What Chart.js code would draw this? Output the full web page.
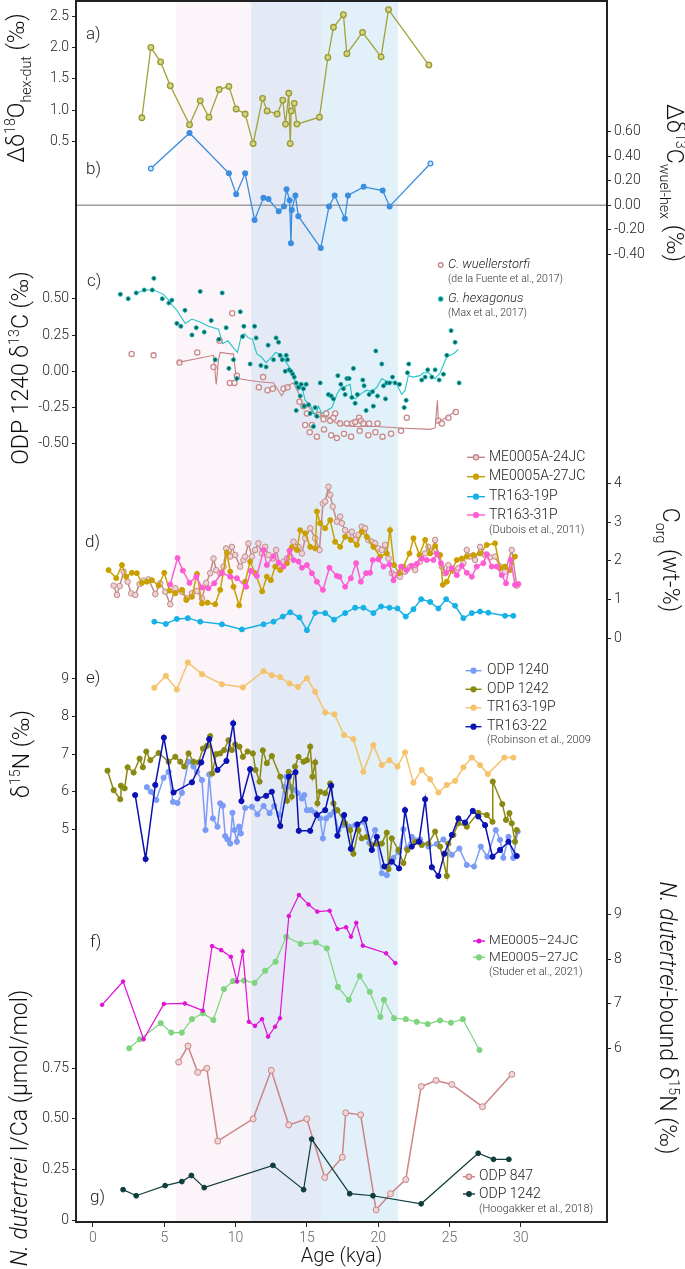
<!DOCTYPE html>
<html>
<head>
<meta charset="utf-8">
<script src="https://cdn.jsdelivr.net/npm/chart.js@4.4.0/dist/chart.umd.min.js"></script>
<style>
  html, body { margin: 0; padding: 0; background: #fff; }
  canvas { display: block; }
</style>
</head>
<body>
<canvas id="chart" width="685" height="1269"></canvas>
<script>
//DATA (age in kya)
const xTicks = [0, 5, 10, 15, 20, 25, 30];

// a) d18O hex - dut
const ageA = [3.43,4.06,4.74,5.42,6.77,7.52,8.13,8.85,9.53,10.04,10.67,11.23,11.89,12.21,12.91,13.31,13.5,13.73,13.83,13.9,14.11,14.3,15.88,16.47,16.86,17.56,17.8,18.9,20.2,20.72,23.55];
const valA = [0.88,2.0,1.77,1.39,0.77,1.15,0.89,1.33,1.38,1.02,0.94,0.47,1.19,0.99,0.94,1.16,0.78,1.27,0.47,0.99,1.11,0.78,0.89,1.84,2.32,2.52,1.90,2.24,1.85,2.60,1.72];

// b) d13C wuel - hex
const ageB = [4.06,6.77,9.53,10.04,10.67,11.33,11.95,12.31,13.02,13.39,13.57,13.79,13.88,13.94,14.19,14.4,15.97,16.55,16.95,17.66,17.88,18.98,20.31,20.8,23.66];
const valB = [0.30,0.59,0.26,0.09,0.26,-0.12,0.06,0.05,-0.05,-0.01,0.13,0.04,-0.31,-0.04,0.08,-0.09,-0.35,-0.01,0.08,-0.11,0.08,0.15,0.12,-0.01,0.34];

// c) ODP 1240 d13C
const wuelAge = [2.71,4.25,6.07,7.31,8.45,8.87,9.6,9.76,9.92,10.09,11.63,11.93,12.24,12.61,13.36,13.64,14.48,14.76,14.88,15.0,15.2,15.35,15.7,15.81,16.16,16.2,16.35,16.63,16.7,16.86,16.98,17.1,17.33,17.6,17.8,18.1,18.19,18.38,18.66,18.7,18.78,18.96,19.3,19.36,19.8,19.95,20.3,20.9,21.6,22.0,24.22,24.46,24.92,25.44];
const wuelVal = [0.12,0.11,0.06,0.13,0.03,0.21,-0.08,0.40,-0.08,-0.03,-0.11,-0.04,-0.13,-0.12,-0.12,-0.11,-0.21,-0.24,-0.37,-0.29,-0.42,-0.37,-0.45,-0.30,-0.33,-0.40,-0.29,-0.34,-0.44,-0.32,-0.29,-0.46,-0.36,-0.43,-0.36,-0.45,-0.36,-0.35,-0.32,-0.41,-0.34,-0.36,-0.44,-0.36,-0.42,-0.36,-0.45,-0.43,-0.41,-0.32,-0.34,-0.36,-0.32,-0.28];
const wuelLineAge = [5.88,8.45,8.64,8.8,8.92,9.62,9.85,10.02,10.13,11.49,12.66,13.24,13.48,13.83,14.06,14.41,14.65,14.88,15.11,15.46,15.93,16.63,17.1,17.21,17.45,18.26,18.96,19.9,21.53,23.64,23.99,24.15,24.22,24.57,24.92,25.44];
const wuelLineVal = [0.06,0.11,-0.09,0.08,0.13,0.12,0.12,-0.03,-0.05,-0.07,-0.08,-0.17,-0.12,-0.09,-0.08,-0.15,-0.22,-0.25,-0.24,-0.29,-0.30,-0.32,-0.36,-0.34,-0.37,-0.38,-0.38,-0.38,-0.39,-0.40,-0.39,-0.20,-0.35,-0.33,-0.31,-0.27];
const hexAge = [1.92,2.47,3.03,3.59,4.16,4.27,4.86,5.32,5.53,5.88,6.16,6.45,6.94,7.24,7.52,7.8,8.29,8.57,8.83,9.06,9.34,9.53,9.85,10.09,10.33,10.49,10.58,11.02,11.33,11.44,11.77,12.14,12.28,12.66,12.84,13.01,13.12,13.27,13.48,13.55,13.64,13.76,13.88,14.01,14.11,14.25,14.25,14.41,14.53,14.6,14.76,14.8,14.95,15.11,15.23,15.46,15.58,15.7,15.93,16.51,16.7,16.86,17.17,17.38,17.56,17.68,17.8,17.96,18.15,18.26,18.38,18.54,18.92,19.01,19.15,19.36,19.6,19.66,19.83,19.95,20.25,20.37,20.51,20.6,20.79,21.0,21.18,21.49,21.82,21.96,22.05,22.14,23.05,23.29,23.47,23.76,23.99,24.27,24.57,24.81,25.11,25.39,25.67];
const hexVal = [0.53,0.50,0.54,0.56,0.56,0.64,0.50,0.47,0.49,0.33,0.31,0.42,0.25,0.30,0.55,0.27,0.35,0.08,0.22,0.54,0.30,0.02,0.08,-0.05,0.41,0.24,0.31,0.05,0.31,0.23,0.04,0.03,0.18,0.08,0.23,0.20,0.11,0.08,0.00,0.11,0.08,0.01,0.00,-0.02,-0.04,-0.08,-0.27,-0.11,-0.17,-0.09,-0.12,-0.24,-0.09,-0.23,-0.29,-0.38,-0.25,-0.31,-0.08,-0.16,-0.17,-0.19,-0.03,-0.09,-0.12,-0.16,-0.05,-0.05,-0.18,0.02,-0.22,-0.16,-0.06,-0.10,-0.27,-0.16,-0.14,-0.24,0.14,-0.17,0.05,-0.10,-0.19,-0.08,-0.08,-0.04,-0.08,-0.09,-0.25,-0.20,-0.01,0.05,-0.06,-0.04,0.01,-0.04,0.01,-0.06,-0.02,0.11,0.28,0.20,-0.08];
const hexLineAge = [3.08,3.59,4.25,4.95,5.3,5.53,5.88,6.47,6.94,7.52,8.1,8.8,9.1,9.46,9.78,10.13,10.37,10.62,10.9,11.18,11.49,11.79,12.14,12.54,12.8,13.08,13.31,13.55,13.83,14.06,14.41,14.65,14.88,15.23,15.58,15.81,16.05,16.4,16.75,17.1,17.33,17.56,18.03,18.15,18.38,18.61,18.85,19.2,19.55,19.9,20.25,20.6,20.95,21.3,21.65,21.88,22.11,22.47,22.93,23.17,23.52,23.99,24.34,24.81,25.27,25.62];
const hexLineVal = [0.54,0.56,0.56,0.53,0.49,0.46,0.42,0.33,0.36,0.34,0.31,0.29,0.19,0.21,0.17,0.13,0.23,0.26,0.23,0.22,0.12,0.10,0.06,0.10,0.13,0.12,0.10,0.06,0.02,-0.04,-0.13,-0.11,-0.20,-0.23,-0.31,-0.24,-0.29,-0.27,-0.25,-0.16,-0.12,-0.11,-0.09,-0.17,-0.19,-0.17,-0.15,-0.13,-0.14,-0.11,-0.05,-0.07,-0.07,-0.09,-0.16,-0.13,-0.03,-0.04,-0.03,-0.01,-0.01,-0.05,-0.01,0.10,0.12,0.15];

// d) Corg
const d24Age = [1.45,1.68,1.87,2.15,2.43,2.68,2.96,3.27,3.55,3.9,4.37,4.72,5.07,5.42,5.77,6.24,6.59,6.94,7.29,7.64,7.94,8.22,8.45,8.64,8.92,9.15,9.34,9.62,9.74,9.97,10.32,10.55,10.67,10.9,11.14,11.37,11.6,11.84,12.07,12.31,12.61,12.84,13.13,13.36,13.6,13.83,14.06,14.41,14.65,14.88,15.23,15.58,15.88,16.12,16.28,16.51,16.63,16.81,17.1,17.33,17.45,17.68,17.91,18.15,18.38,18.61,18.85,19.08,19.31,19.55,19.78,20.01,20.25,20.48,20.72,20.95,21.18,21.53,21.88,22.24,22.59,22.94,23.29,23.52,23.76,23.99,24.22,24.46,24.69,24.92,25.27,25.62,25.97,26.21,26.44,26.79,27.14,27.49,27.84,28.19,28.54,28.89,29.36,29.71];
const d24Val = [1.36,1.12,1.35,1.72,1.46,1.16,1.12,1.40,1.49,1.52,1.14,1.42,1.20,0.88,1.29,1.20,1.03,1.16,1.22,1.03,1.43,1.68,2.06,1.76,1.68,1.85,2.32,2.11,2.36,2.15,1.85,2.02,2.11,2.45,2.11,2.28,2.45,2.19,2.36,2.15,2.06,2.28,1.85,1.98,2.06,2.11,2.49,2.36,2.19,2.58,2.84,2.58,2.28,3.48,3.53,3.91,3.70,3.40,3.01,3.14,2.97,2.79,2.67,2.75,2.54,2.67,2.88,2.84,2.54,2.49,2.45,2.32,2.28,2.41,2.06,1.68,1.63,1.59,1.72,1.85,1.76,1.98,2.19,2.36,2.24,2.54,2.15,1.85,1.68,1.89,1.74,1.81,1.94,2.28,2.11,2.02,2.36,2.15,2.09,2.11,1.85,1.72,2.28,1.36];
const d27Age = [1.09,1.63,2.03,2.33,2.73,3.08,3.43,3.78,4.13,4.6,5.0,5.37,5.77,6.24,6.54,6.94,7.29,7.64,8.03,8.57,8.92,9.39,9.62,9.85,10.25,10.67,11.02,11.37,11.86,12.19,12.47,12.78,13.13,13.6,13.94,14.3,14.53,14.88,15.23,15.58,15.7,15.93,16.28,16.63,16.98,17.33,17.68,18.08,18.5,18.85,19.2,19.66,20.13,20.6,20.83,21.11,21.46,21.77,22.19,22.47,22.89,23.29,23.64,23.99,24.34,24.53,24.81,25.16,25.51,25.86,26.21,26.67,27.14,27.61,28.19,28.54,28.89,29.24,29.59];
const d27Val = [1.76,1.55,1.89,1.59,1.69,1.68,1.43,1.46,1.50,1.36,1.69,1.23,1.16,1.25,0.99,1.07,1.66,0.90,0.92,0.88,1.25,2.21,1.72,1.33,0.85,1.46,1.98,1.68,1.21,1.59,1.50,1.85,1.76,1.94,2.35,2.28,2.79,2.71,2.36,2.32,3.27,2.97,2.84,3.05,2.49,2.36,2.62,2.54,2.41,2.75,2.62,2.36,2.11,2.19,2.79,1.89,1.68,1.85,2.19,2.58,2.15,2.54,2.19,2.38,2.15,1.38,1.46,1.76,2.02,2.06,2.11,2.15,2.19,2.41,2.45,1.81,1.85,1.76,2.11];
const d19Age = [4.3,5.11,5.88,6.65,7.52,9.04,10.44,11.96,12.66,13.31,13.83,14.48,15.0,15.58,16.28,16.9,17.68,18.38,18.96,19.66,20.2,20.79,21.35,21.93,22.47,23.01,23.64,24.22,24.76,25.39,25.97,26.56,27.14,27.72,28.89,29.47];
const d19Val = [0.43,0.37,0.50,0.52,0.43,0.36,0.23,0.36,0.43,0.56,0.67,0.54,0.21,0.66,0.65,0.48,0.65,0.79,0.79,0.65,0.82,0.79,0.77,0.56,0.75,1.01,0.94,0.77,1.01,0.84,0.52,0.65,0.69,0.66,0.58,0.58];
const d31Age = [5.42,5.93,6.3,6.77,7.24,7.64,8.1,8.5,9.04,9.62,10.09,10.74,11.07,11.49,11.96,12.19,12.66,13.01,13.36,13.78,14.06,14.41,14.65,15.0,15.35,15.7,16.12,16.58,17.1,17.28,17.68,18.08,18.45,18.78,19.15,19.43,19.62,20.01,20.37,20.79,21.07,21.6,22.0,22.35,22.7,23.05,23.41,23.87,24.11,24.39,24.76,25.16,25.51,25.86,26.21,26.56,26.91,27.37,27.61,27.96,28.31,28.66,28.96,29.29,29.59,29.83];
const d31Val = [1.39,2.07,1.75,1.43,1.59,1.31,1.29,1.42,1.69,1.59,1.55,1.33,1.74,1.61,2.28,1.89,2.12,1.95,1.85,2.26,2.02,1.98,1.82,1.89,1.68,1.46,1.25,1.82,1.61,1.59,1.33,1.55,1.94,1.46,1.68,1.69,2.02,2.04,1.85,1.91,1.50,1.85,1.76,1.87,1.92,2.06,2.02,2.02,2.19,1.94,1.69,1.81,1.63,1.87,1.69,1.59,1.85,1.94,2.17,1.85,1.85,1.63,1.42,2.02,1.38,1.40];

// e) d15N
const e1240Age = [3.78,4.06,4.44,4.95,5.3,5.61,5.93,6.24,6.7,7.05,7.29,7.64,7.89,8.15,8.41,8.73,8.92,9.1,9.27,9.43,9.62,9.78,9.92,10.09,10.25,10.37,10.67,11.14,11.53,11.96,12.38,12.71,13.08,13.41,13.55,13.83,14.11,14.37,14.65,14.81,15.0,15.28,15.58,15.93,16.12,16.35,16.63,16.91,17.21,17.56,17.98,18.38,18.96,19.38,19.78,20.25,20.6,21.07,21.42,21.77,22.0,22.35,22.94,23.52,24.11,24.57,25.16,25.69,26.21,26.72,27.19,27.65,28.24,28.54,28.77,29.13,29.47,29.78];
const e1240Val = [6.12,6.00,5.78,6.37,6.53,5.73,5.70,5.97,6.80,6.67,6.53,6.31,4.98,6.46,5.29,5.07,5.69,5.63,4.82,4.73,4.62,5.44,4.98,4.67,5.07,4.89,5.57,5.60,5.40,5.62,5.43,5.62,5.38,6.13,6.40,6.13,6.05,5.96,5.82,5.91,5.51,5.51,5.44,5.29,4.76,5.29,5.38,5.47,4.98,5.11,5.07,5.11,5.20,4.64,4.98,3.83,3.78,4.24,4.39,5.00,4.49,4.80,4.73,4.54,4.61,4.73,4.32,4.49,4.05,4.01,4.54,4.27,4.98,4.72,4.24,4.80,4.24,4.94];
const e1242Age = [1.02,1.45,1.91,1.96,2.22,2.43,2.85,3.27,3.5,3.74,4.02,4.6,5.3,5.77,6.12,6.4,6.7,7.05,7.4,7.71,7.99,8.22,8.36,8.64,8.92,9.2,9.5,9.74,9.97,10.27,10.51,10.84,11.21,11.4,11.68,11.91,12.19,12.54,13.13,13.6,13.72,13.94,14.17,14.41,14.76,15.0,15.23,15.39,15.58,15.74,15.93,16.28,16.63,16.86,17.14,17.68,18.03,18.26,18.61,18.85,19.2,19.55,19.9,20.25,20.6,20.72,20.95,21.42,21.77,22.05,22.59,23.05,23.52,23.99,24.34,24.81,24.92,25.27,25.62,26.21,27.02,27.61,28.01,28.03,28.7,28.96,29.2,29.36,29.59,29.71];
const e1242Val = [6.56,6.04,5.80,6.16,6.09,6.65,6.51,6.88,6.65,7.07,6.84,7.03,6.80,6.93,6.80,6.67,7.02,6.80,6.78,7.15,7.22,7.48,6.49,7.00,7.02,7.11,7.37,7.11,7.26,7.20,6.93,7.07,7.02,6.58,6.27,7.10,6.76,6.95,6.40,5.76,6.53,5.87,6.67,6.93,6.80,6.84,7.20,6.40,6.78,5.69,6.00,5.96,6.22,5.69,5.51,5.16,4.98,4.35,4.98,4.76,4.80,4.58,4.62,4.62,4.91,3.94,4.76,4.45,4.10,4.45,4.67,4.58,4.62,4.94,4.54,3.76,4.62,4.85,5.16,5.07,5.44,5.38,5.20,6.27,5.67,5.25,5.43,5.16,4.67,4.98];
const e19Age = [4.3,5.11,5.88,6.65,7.64,9.04,10.51,11.96,12.54,13.13,13.78,14.37,15.0,15.58,16.28,16.93,17.61,18.26,18.96,19.66,20.25,20.79,21.35,21.88,22.47,23.05,23.64,24.22,24.81,25.39,25.97,26.56,27.14,27.68,28.84,29.47];
const e19Val = [8.77,9.08,8.72,9.44,9.13,8.86,8.78,9.21,9.10,9.05,8.88,8.79,9.02,8.66,8.11,8.06,7.51,7.40,6.53,7.24,6.71,6.84,6.67,7.05,6.24,6.58,6.33,5.98,6.18,6.29,6.65,6.91,6.71,6.47,6.91,6.91];
const e22Age = [2.96,3.69,4.37,4.97,5.65,6.94,7.59,8.15,8.73,9.36,9.83,10.41,11.02,11.53,12.14,12.54,13.13,13.73,14.2,14.43,15.23,15.7,16.28,16.7,17.14,17.61,18.08,18.54,19.08,19.55,19.9,20.43,20.95,21.46,21.88,22.35,22.86,23.29,23.76,24.22,24.64,25.16,25.62,26.09,26.63,27.02,27.49,28.01,28.54,29.13,29.71];
const e22Val = [5.91,4.21,6.18,7.44,5.98,6.25,6.78,7.40,6.58,6.82,7.82,5.75,6.60,5.82,5.89,6.00,5.09,6.40,6.52,4.96,4.96,5.38,5.51,6.16,4.83,5.38,4.48,5.13,5.27,4.45,4.80,4.01,4.14,3.96,5.51,4.54,4.67,5.80,3.99,3.76,4.35,4.85,5.29,5.18,5.49,5.34,5.11,4.27,4.45,4.67,4.29];

// f) N. dutertrei-bound d15N
const f24Age = [0.64,2.11,3.55,4.97,6.44,7.7,8.35,8.99,9.67,10.1,10.5,10.93,11.36,11.85,12.28,12.77,13.11,13.73,14.44,15.11,15.73,16.59,17.14,17.75,18.09,18.46,18.92,20.55,21.2];
const f24Val = [6.98,7.50,6.21,7.00,7.01,6.85,8.29,8.20,8.05,7.50,8.17,6.60,6.51,6.66,6.27,6.49,6.68,8.96,9.43,9.22,9.06,9.08,8.67,8.71,8.50,8.81,8.30,8.13,7.91];
const f27Age = [2.54,3.28,4.75,5.49,6.23,6.94,7.7,8.44,9.18,9.82,10.59,11.33,12.07,12.8,13.55,14.56,15.63,16.4,17.17,17.94,18.7,19.41,20.15,20.4,21.11,21.93,22.7,23.47,24.33,25.1,25.93,27.1];
const f27Val = [6.01,6.21,6.57,6.36,6.36,6.66,6.79,6.64,7.33,7.51,7.52,7.47,7.74,7.94,8.50,8.34,8.37,8.24,7.38,7.09,7.62,7.27,6.71,7.09,6.68,6.66,6.60,6.55,6.63,6.58,6.66,5.97];

// g) I/Ca
const g847Age = [6.01,6.66,7.34,7.98,8.75,11.23,12.5,13.73,14.99,16.25,17.48,17.72,18.77,19.85,20.86,21.93,23.01,24.06,25.16,27.31,29.37];
const g847Val = [0.78,0.86,0.73,0.75,0.39,0.50,0.74,0.47,0.50,0.21,0.31,0.53,0.52,0.05,0.13,0.20,0.66,0.69,0.67,0.56,0.72];
const g1242Age = [2.11,3.03,5.06,6.23,6.9,7.8,12.62,14.77,15.33,18.0,19.63,23.01,27.01,28.08,29.16];
const g1242Val = [0.15,0.12,0.17,0.19,0.22,0.16,0.27,0.15,0.40,0.13,0.12,0.08,0.33,0.30,0.30];

// shaded intervals
const bandFrom = [5.82, 11.09, 16.05];
const bandTo   = [11.09, 16.05, 21.4];

//LAYOUT
const X_MIN = -1.19, X_MAX = 36.04;
const TOP = 1, BOTTOM = 1222, H = BOTTOM - TOP;
const FONT = "'Roboto', 'Liberation Sans', sans-serif";
const bandColor = ['#fbf4f9', '#e4eaf5', '#e1f0f9'];

// each panel: two tick values and the pixel rows they sit on
const panels = {
  ya: { side: 'L', ref: [0.5, 141.7, 2.5, 16],     ticks: [0.5, 1, 1.5, 2, 2.5],          dec: 1 },
  yb: { side: 'R', ref: [0, 205.2, 0.6, 131.7],    ticks: [-0.4, -0.2, 0, 0.2, 0.4, 0.6], dec: 2 },
  yc: { side: 'L', ref: [0, 371.3, 0.5, 298.7],    ticks: [-0.5, -0.25, 0, 0.25, 0.5],    dec: 2 },
  yd: { side: 'R', ref: [0, 638.3, 4, 483.3],      ticks: [0, 1, 2, 3, 4],                dec: 0 },
  ye: { side: 'L', ref: [5, 829.3, 9, 679],        ticks: [5, 6, 7, 8, 9],                dec: 0 },
  yf: { side: 'R', ref: [6, 1048.7, 9, 914.3],     ticks: [6, 7, 8, 9],                   dec: 0 },
  yg: { side: 'L', ref: [0, 1220, 0.75, 1068.3],   ticks: [0, 0.25, 0.5, 0.75],           dec: 2, zero: '0' }
};

const ranges = {};
for (const id in panels) {
  const [v0, y0, v1, y1] = panels[id].ref;
  const k = (y0 - y1) / (v1 - v0);
  const max = v1 + (y1 - TOP) / k;
  ranges[id] = { min: max - H / k, max };
}

function sideTicks(side) {
  const out = [];
  for (const id in panels) {
    const p = panels[id];
    if (p.side !== side) continue;
    const r = ranges[id];
    p.ticks.forEach(v => {
      const lab = (v === 0 && p.zero) ? p.zero : v.toFixed(p.dec);
      out.push({ value: (v - r.min) / (r.max - r.min), lab });
    });
  }
  return out.sort((a, b) => a.value - b.value);
}

const xy = (xs, ys) => xs.map((x, i) => ({ x, y: ys[i] }));

function series(xs, ys, axis, color, o = {}) {
  return Object.assign({
    data: xy(xs, ys), yAxisID: axis, xAxisID: 'x',
    borderColor: color, backgroundColor: color,
    pointBorderColor: color, pointBackgroundColor: color,
    borderWidth: 1.3, pointRadius: 2.6, pointBorderWidth: 1,
    tension: 0, showLine: true
  }, o);
}

// first and last points of panel b are hollow
const bFill = ageB.map((_, i) => (i === 0 || i === ageB.length - 1) ? '#cfe3f8' : '#3b8de0');

const datasets = [
  series(ageA, valA, 'ya', '#a2a23a', { pointBackgroundColor: '#d4d488', pointBorderColor: '#9a9a30', pointRadius: 2.8, pointBorderWidth: 1.3 }),
  series(ageB, valB, 'yb', '#3b8de0', { pointRadius: 2.4, pointBackgroundColor: bFill, pointBorderWidth: 1.2 }),

  series(hexAge, hexVal, 'yc', '#0b7a78', { showLine: false, pointRadius: 2, pointBorderColor: '#17b3ae', pointBackgroundColor: '#06605e' }),
  series(wuelAge, wuelVal, 'yc', '#c98a8a', { showLine: false, pointRadius: 2.6, pointBackgroundColor: 'rgba(255,255,255,0.5)', pointBorderWidth: 1.3 }),
  series(hexLineAge, hexLineVal, 'yc', '#25c4c8', { pointRadius: 0, borderWidth: 1.1 }),
  series(wuelLineAge, wuelLineVal, 'yc', '#c48282', { pointRadius: 0, borderWidth: 1.1 }),

  series(d31Age, d31Val, 'yd', '#ff5cd4', { pointRadius: 2.5, borderWidth: 1.5 }),
  series(d19Age, d19Val, 'yd', '#16b1e6', { pointRadius: 2.5, borderWidth: 1.5 }),
  series(d27Age, d27Val, 'yd', '#c9a000', { pointRadius: 2.5, borderWidth: 1.5 }),
  series(d24Age, d24Val, 'yd', '#c48a8a', { pointRadius: 2.8, pointBackgroundColor: '#ecd2d2', borderWidth: 1.5 }),

  series(e22Age, e22Val, 'ye', '#0b12b3', { pointRadius: 2.6, borderWidth: 1.5 }),
  series(e1242Age, e1242Val, 'ye', '#8a8a12', { pointRadius: 2.6, borderWidth: 1.5 }),
  series(e1240Age, e1240Val, 'ye', '#7b9cf6', { pointRadius: 2.6, borderWidth: 1.5 }),
  series(e19Age, e19Val, 'ye', '#f5c36c', { pointRadius: 2.6, borderWidth: 1.5 }),

  series(f24Age, f24Val, 'yf', '#e012d8', { pointRadius: 1.8, borderWidth: 1.2 }),
  series(f27Age, f27Val, 'yf', '#7fd47f', { pointRadius: 2.6, borderWidth: 1.2 }),

  series(g1242Age, g1242Val, 'yg', '#0f3d3b', { pointRadius: 2.4, borderWidth: 1.2 }),
  series(g847Age, g847Val, 'yg', '#cc8585', { pointRadius: 3, pointBackgroundColor: '#efd6d6', borderWidth: 1.5 }),

  // zero line of panel b
  series([X_MIN, X_MAX], [0, 0], 'yb', '#9f9f9f', { pointRadius: 0, borderWidth: 1.5 })
];

//TEXT
const panelLabels = [
  ['a)', 86, 35], ['b)', 86, 170], ['c)', 87, 282], ['d)', 85, 543],
  ['e)', 86, 679], ['f)', 90, 943], ['g)', 90, 1198]
];

const titles = [
  { rot: -1, x: 24,  y: 88,   parts: [['Δδ'], ['18', 'sup'], ['O'], ['hex-dut', 'sub'], [' (‰)']] },
  { rot:  1, x: 667, y: 183,  parts: [['Δδ'], ['13', 'sup'], ['C'], ['wuel-hex', 'sub'], [' (‰)']] },
  { rot: -1, x: 28,  y: 368,  parts: [['ODP 1240 δ'], ['13', 'sup'], ['C (‰)']] },
  { rot:  1, x: 663, y: 560,  parts: [['C'], ['org', 'sub'], [' (wt-%)']] },
  { rot: -1, x: 29,  y: 754,  parts: [['δ'], ['15', 'sup'], ['N (‰)']] },
  { rot:  1, x: 660, y: 1018, parts: [['N. dutertrei', 'it'], ['-bound δ'], ['15', 'sup'], ['N (‰)']] },
  { rot: -1, x: 27,  y: 1128, parts: [['N. dutertrei', 'it'], [' I/Ca (µmol/mol)']] }
];

const legends = [
  { mx: 440.7, half: 0, tx: 448, size: 13,
    items: [
      { y: 265, text: 'C. wuellerstorfi', it: true, color: '#c98a8a', fill: '#fff', r: 2.3 },
      { y: 299, text: 'G. hexagonus', it: true, color: '#17b3ae', fill: '#06605e', r: 2 }
    ],
    notes: [{ y: 279.5, text: '(de la Fuente et al., 2017)', size: 10.5 }, { y: 313.5, text: '(Max et al., 2017)', size: 10.5 }] },
  { mx: 476, half: 9, tx: 489, size: 14,
    items: [
      { y: 457.3, text: 'ME0005A-24JC', color: '#c48a8a', fill: '#ecd2d2', r: 2.6 },
      { y: 476.7, text: 'ME0005A-27JC', color: '#c9a000', fill: '#c9a000', r: 2.4 },
      { y: 496.7, text: 'TR163-19P', color: '#16b1e6', fill: '#16b1e6', r: 2.4 },
      { y: 515, text: 'TR163-31P', color: '#ff5cd4', fill: '#ff5cd4', r: 2.4 }
    ],
    notes: [{ y: 530, text: '(Dubois et al., 2011)', size: 11 }] },
  { mx: 473.5, half: 8, tx: 487, size: 14,
    items: [
      { y: 670.7, text: 'ODP 1240', color: '#7b9cf6', fill: '#7b9cf6', r: 2.4 },
      { y: 689.3, text: 'ODP 1242', color: '#8a8a12', fill: '#8a8a12', r: 2.4 },
      { y: 707.7, text: 'TR163-19P', color: '#f5c36c', fill: '#f5c36c', r: 2.4 },
      { y: 726.7, text: 'TR163-22', color: '#0b12b3', fill: '#0b12b3', r: 2.4 }
    ],
    notes: [{ y: 740, text: '(Robinson et al., 2009', size: 11 }] },
  { mx: 479, half: 6, tx: 489, size: 13.5,
    items: [
      { y: 941, text: 'ME0005–24JC', color: '#e012d8', fill: '#e012d8', r: 1.8 },
      { y: 957.3, text: 'ME0005–27JC', color: '#7fd47f', fill: '#7fd47f', r: 2.4 }
    ],
    notes: [{ y: 972.7, text: '(Studer et al., 2021)', size: 11 }] },
  { mx: 469, half: 6, tx: 479, size: 14,
    items: [
      { y: 1176.7, text: 'ODP 847', color: '#cc8585', fill: '#efd6d6', r: 2.6 },
      { y: 1194, text: 'ODP 1242', color: '#0f3d3b', fill: '#0f3d3b', r: 2.2 }
    ],
    notes: [{ y: 1209.3, text: '(Hoogakker et al., 2018)', size: 11 }] }
];

function rich(ctx, t, size) {
  ctx.save();
  ctx.translate(t.x, t.y);
  ctx.rotate(t.rot * Math.PI / 2);
  const fontOf = p => {
    const small = p[1] === 'sub' || p[1] === 'sup';
    return (p[1] === 'it' ? 'italic ' : '') + '300 ' + (small ? size * 0.62 : size) + 'px ' + FONT;
  };
  let w = 0;
  t.parts.forEach(p => { ctx.font = fontOf(p); w += ctx.measureText(p[0]).width; });
  let cx = -w / 2;
  ctx.textAlign = 'left';
  ctx.textBaseline = 'alphabetic';
  ctx.fillStyle = '#111';
  t.parts.forEach(p => {
    ctx.font = fontOf(p);
    const dy = p[1] === 'sub' ? size * 0.32 : p[1] === 'sup' ? -size * 0.4 : 0;
    ctx.fillText(p[0], cx, dy);
    cx += ctx.measureText(p[0]).width;
  });
  ctx.restore();
}

const bandsPlugin = {
  id: 'bands',
  beforeDatasetsDraw(chart) {
    const { ctx, chartArea: a, scales: { x } } = chart;
    ctx.save();
    bandFrom.forEach((f, i) => {
      const x0 = x.getPixelForValue(f), x1 = x.getPixelForValue(bandTo[i]);
      ctx.fillStyle = bandColor[i];
      ctx.fillRect(x0, a.top, x1 - x0, a.bottom - a.top);
    });
    ctx.restore();
  }
};

const framePlugin = {
  id: 'frame',
  afterDatasetsDraw(chart) {
    const { ctx, chartArea: a } = chart;
    ctx.save();
    ctx.strokeStyle = '#222';
    ctx.lineWidth = 2;
    ctx.strokeRect(a.left, a.top, a.right - a.left, a.bottom - a.top);
    ctx.restore();
  }
};

const textPlugin = {
  id: 'texts',
  afterDraw(chart) {
    const ctx = chart.ctx;
    ctx.save();
    ctx.fillStyle = '#222';
    ctx.textBaseline = 'middle';
    ctx.textAlign = 'left';
    ctx.font = '300 17px ' + FONT;
    panelLabels.forEach(([t, x, y]) => ctx.fillText(t, x, y));

    legends.forEach(L => {
      L.items.forEach(it => {
        ctx.strokeStyle = it.color;
        ctx.lineWidth = 1.4;
        if (L.half) {
          ctx.beginPath(); ctx.moveTo(L.mx - L.half, it.y); ctx.lineTo(L.mx + L.half, it.y); ctx.stroke();
        }
        ctx.beginPath(); ctx.arc(L.mx, it.y, it.r, 0, Math.PI * 2);
        ctx.fillStyle = it.fill; ctx.fill(); ctx.stroke();
        ctx.fillStyle = '#222';
        ctx.font = (it.it ? 'italic ' : '') + '300 ' + L.size + 'px ' + FONT;
        ctx.fillText(it.text, L.tx, it.y);
      });
      L.notes.forEach(n => {
        ctx.fillStyle = '#333';
        ctx.font = '300 ' + n.size + 'px ' + FONT;
        ctx.fillText(n.text, L.tx, n.y);
      });
    });
    ctx.restore();
    titles.forEach(t => rich(ctx, t, 23));
  }
};

function sideAxis(side) {
  const list = sideTicks(side);
  return {
    position: side === 'L' ? 'left' : 'right',
    min: 0, max: 1,
    afterFit: s => { s.width = side === 'L' ? 76 : 685 - 607; s.paddingTop = 0; s.paddingBottom = 0; },
    afterBuildTicks: s => { s.ticks = list.map(t => ({ value: t.value })); },
    ticks: { autoSkip: false, padding: 3, color: '#222', font: { size: 14, family: FONT, weight: 300 },
             callback: (v, i) => list[i] ? list[i].lab : '' },
    grid: { drawOnChartArea: false, drawTicks: true, tickLength: 4, color: '#222', lineWidth: 1 },
    border: { display: false }
  };
}

const scales = {
  x: {
    type: 'linear', position: 'bottom', min: X_MIN, max: X_MAX,
    afterFit: s => { s.height = 1269 - BOTTOM; s.paddingLeft = 0; s.paddingRight = 0; },
    afterBuildTicks: s => { s.ticks = xTicks.map(v => ({ value: v })); },
    ticks: { autoSkip: false, maxRotation: 0, padding: 3, color: '#666', font: { size: 14, family: FONT, weight: 300 } },
    grid: { drawOnChartArea: false, drawTicks: true, tickLength: 5, color: '#222' },
    border: { display: false },
    title: { display: true, text: 'Age (kya)', color: '#111', font: { size: 20, family: FONT, weight: 300 }, padding: { top: 0, bottom: 0 } }
  },
  yL: sideAxis('L'),
  yR: sideAxis('R')
};
for (const id in panels) {
  scales[id] = { type: 'linear', display: false, min: ranges[id].min, max: ranges[id].max };
}

new Chart(document.getElementById('chart'), {
  type: 'line',
  data: { datasets },
  options: {
    responsive: false,
    animation: false,
    devicePixelRatio: 1,
    layout: { padding: { top: TOP, left: 0, right: 0, bottom: 0 }, autoPadding: false },
    plugins: { legend: { display: false }, tooltip: { enabled: false } },
    scales
  },
  plugins: [bandsPlugin, framePlugin, textPlugin]
});
</script>
</body>
</html>
